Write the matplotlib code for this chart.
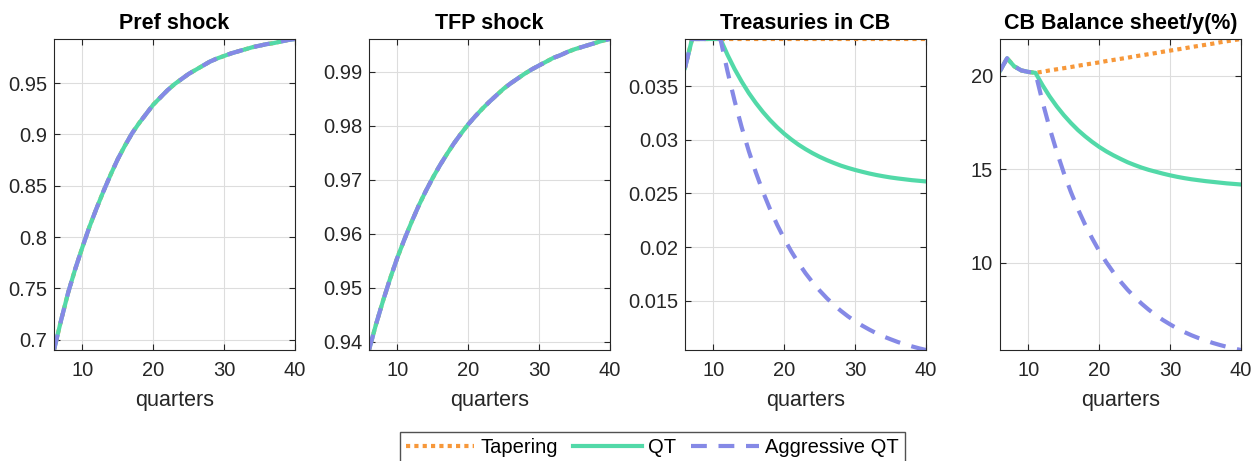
import matplotlib
matplotlib.use("Agg")
import matplotlib.pyplot as plt
from matplotlib.ticker import FormatStrFormatter
import numpy as np

plt.rcParams['font.family'] = ['Liberation Sans', 'DejaVu Sans']

# quarters shown on the x axis
quarters = list(range(6, 41))

# Pref shock (same path under the three policies)
pref = [0.690, 0.719, 0.746, 0.769, 0.790, 0.810, 0.828, 0.845, 0.861, 0.876,
        0.889, 0.901, 0.911, 0.920, 0.929, 0.936, 0.943, 0.949, 0.954, 0.959,
        0.963, 0.967, 0.971, 0.974, 0.9765, 0.979, 0.981, 0.983, 0.985, 0.9865,
        0.988, 0.989, 0.9905, 0.992, 0.993]

# TFP shock (same path under the three policies)
tfp = [0.9385, 0.9433, 0.9477, 0.9518, 0.9556, 0.9590, 0.9622, 0.9652, 0.9679, 0.9704,
       0.9727, 0.9748, 0.9768, 0.9786, 0.9803, 0.9818, 0.9832, 0.9845, 0.9857, 0.9869,
       0.9879, 0.9888, 0.9897, 0.9905, 0.9912, 0.9919, 0.9926, 0.9931, 0.9937, 0.9942,
       0.9946, 0.9950, 0.9954, 0.9958, 0.9961]

# Treasuries in CB
treas_taper = [0.0367, 0.03938, 0.03938, 0.03938, 0.03938] + [0.03938] * 30
treas_qt = [0.0367, 0.03938, 0.03938, 0.03938, 0.03938,
            0.03938, 0.03790, 0.03658, 0.03541, 0.03435, 0.03342, 0.03258, 0.03183, 0.03116, 0.03056,
            0.03003, 0.02955, 0.02913, 0.02875, 0.02841, 0.02811, 0.02784, 0.02759, 0.02738, 0.02719,
            0.02702, 0.02686, 0.02672, 0.02660, 0.02649, 0.02640, 0.02632, 0.02624, 0.02618, 0.02612]
treas_agg = [0.0367, 0.03938, 0.03938, 0.03938, 0.03938,
             0.03938, 0.03636, 0.03362, 0.03116, 0.02895, 0.02695, 0.02515, 0.02354, 0.02209, 0.02078,
             0.01960, 0.01854, 0.01758, 0.01673, 0.01596, 0.01526, 0.01463, 0.01407, 0.01356, 0.01311,
             0.01270, 0.01233, 0.01199, 0.01169, 0.01143, 0.01118, 0.01096, 0.01077, 0.01059, 0.01043]

# CB Balance sheet / y (%)
cb_start = [20.25, 20.93, 20.50, 20.28, 20.20]
cb_taper = cb_start + [20.15, 20.21, 20.28, 20.34, 20.40, 20.46, 20.53, 20.59, 20.65, 20.71,
                       20.78, 20.84, 20.90, 20.96, 21.03, 21.09, 21.15, 21.21, 21.28, 21.34,
                       21.40, 21.46, 21.53, 21.59, 21.65, 21.71, 21.78, 21.84, 21.90, 21.96]
cb_qt = cb_start + [20.15, 19.49, 18.89, 18.36, 17.89, 17.47, 17.09, 16.76, 16.46, 16.19,
                    15.95, 15.74, 15.55, 15.37, 15.22, 15.08, 14.96, 14.86, 14.76, 14.67,
                    14.59, 14.52, 14.46, 14.41, 14.36, 14.32, 14.28, 14.24, 14.21, 14.18]
cb_agg = cb_start + [20.15, 18.60, 17.20, 15.94, 14.80, 13.78, 12.86, 12.04, 11.30, 10.62,
                     10.02, 9.48, 8.99, 8.55, 8.16, 7.80, 7.48, 7.19, 6.93, 6.70,
                     6.48, 6.29, 6.12, 5.97, 5.84, 5.71, 5.60, 5.50, 5.41, 5.33]

titles = ['Pref shock', 'TFP shock', 'Treasuries in CB', 'CB Balance sheet/y(%)']
series = [
    (pref, pref, pref),
    (tfp, tfp, tfp),
    (treas_taper, treas_qt, treas_agg),
    (cb_taper, cb_qt, cb_agg),
]
yticks = [
    [0.7, 0.75, 0.8, 0.85, 0.9, 0.95],
    [0.94, 0.95, 0.96, 0.97, 0.98, 0.99],
    [0.015, 0.02, 0.025, 0.03, 0.035],
    [10, 15, 20],
]
labels = ['Tapering', 'QT', 'Aggressive QT']

c_taper = '#F7983A'
c_qt = '#52D9A8'
c_agg = '#8589E6'

fig = plt.figure(figsize=(12.55, 4.61), dpi=100)
lefts = [54, 369, 685, 1000]
W, H = 1255, 461
for i in range(4):
    ax = fig.add_axes([lefts[i] / W, 1 - 350 / H, 241 / W, 311 / H])
    y1, y2, y3 = series[i]
    l1, = ax.plot(quarters, y1, color=c_taper, lw=3, linestyle=(0, (1, 1)),
                  dash_capstyle='butt')
    l2, = ax.plot(quarters, y2, color=c_qt, lw=3, linestyle='-')
    l3, = ax.plot(quarters, y3, color=c_agg, lw=3, linestyle=(0, (3.8, 2.8)))
    allv = np.concatenate([y1, y2, y3])
    ax.set_xlim(6, 40)
    ax.set_ylim(allv.min(), allv.max())
    ax.set_xticks([10, 20, 30, 40])
    ax.set_yticks(yticks[i])
    ax.yaxis.set_major_formatter(FormatStrFormatter('%g'))
    ax.set_title(titles[i], fontsize=15.5, fontweight='bold', pad=7)
    ax.set_xlabel('quarters', fontsize=15.5, color='#262626', labelpad=7)
    ax.grid(True, color='#DDDDDD', lw=0.8)
    ax.set_axisbelow(True)
    ax.tick_params(direction='in', top=True, right=True, labelsize=14.5,
                   colors='#262626', length=4, width=0.8)
    ax.tick_params(axis='x', pad=8)
    ax.tick_params(axis='y', pad=5)
    for sp in ax.spines.values():
        sp.set_color('#262626')
        sp.set_linewidth(0.8)

fig.legend([l1, l2, l3], labels, loc='upper center', ncol=3,
           bbox_to_anchor=(652.5 / W, 1 - 432 / H), borderaxespad=0,
           fontsize=14.5, frameon=True, fancybox=False, edgecolor='#262626',
           handlelength=3.4, columnspacing=0.75, handletextpad=0.3, borderpad=0.3)

fig.savefig('out.png', dpi=100)
